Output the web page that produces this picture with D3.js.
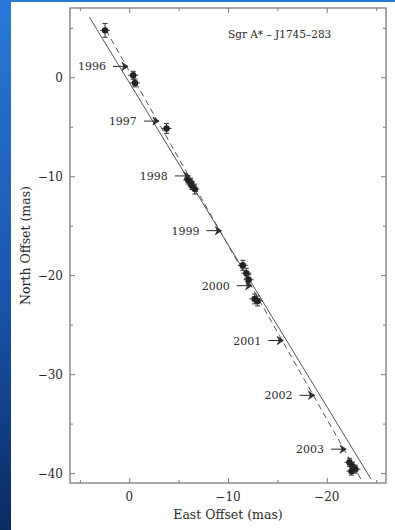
<!DOCTYPE html>
<html>
<head>
<meta charset="utf-8">
<script src="https://cdn.jsdelivr.net/npm/d3@7"></script>
<style>
  body { margin: 0; background: #fff; }
  text { fill: #2a2a2a; }
</style>
</head>
<body>
<div id="chart"></div>
<script>
// measured positions (mas): east offset, north offset, errors
var pointsX  = [2.45, -0.40, -0.58, -3.78, -5.96, -6.2, -6.35, -6.64, -11.5, -11.86, -12.09, -12.7, -13.0, -22.3, -22.6, -22.9, -22.5];
var pointsY  = [4.74, 0.2, -0.57, -5.17, -10.38, -10.6, -10.95, -11.3, -19.0, -19.8, -20.46, -22.4, -22.6, -38.9, -39.3, -39.6, -39.8];
var pointsEX = [0.3, 0.3, 0.3, 0.3, 0.25, 0.25, 0.25, 0.25, 0.3, 0.3, 0.3, 0.35, 0.35, 0.3, 0.3, 0.3, 0.3];
var pointsEY = [0.7, 0.4, 0.4, 0.5, 0.4, 0.4, 0.4, 0.5, 0.5, 0.5, 0.5, 0.5, 0.5, 0.4, 0.4, 0.4, 0.4];

// year markers: arrow tips on the track
var years  = ["1996", "1997", "1998", "1999", "2000", "2001", "2002", "2003"];
var yearsX = [0.13, -3.0, -6.13, -9.33, -12.4, -15.6, -18.76, -21.96];
var yearsY = [1.1, -4.43, -9.97, -15.5, -21.06, -26.6, -32.14, -37.58];

// galactic plane (solid) and fitted motion (dashed)
var solidX  = [4.04, -24.48];
var solidY  = [6.08, -40.6];
var dashedX = [2.35, -23.65];
var dashedY = [4.75, -40.95];

var xTicks = [0, -10, -20];
var yTicks = [0, -10, -20, -30, -40];

var W = 395, H = 530;
var margin = {top: 8, right: 9, bottom: 47, left: 70},
    width = W - margin.left - margin.right,
    height = H - margin.top - margin.bottom;

var svg = d3.select("#chart").append("svg")
    .attr("width", W)
    .attr("height", H);

// slide background
var defs = svg.append("defs");
var grad = defs.append("linearGradient")
    .attr("id", "slidebg").attr("x1", 0).attr("y1", 0).attr("x2", 0).attr("y2", 1);
grad.append("stop").attr("offset", "0%").attr("stop-color", "#2a78d8");
grad.append("stop").attr("offset", "55%").attr("stop-color", "#1a56ad");
grad.append("stop").attr("offset", "100%").attr("stop-color", "#0a2b60");
svg.append("rect").attr("width", W).attr("height", H).attr("fill", "url(#slidebg)");
svg.append("rect").attr("x", 11).attr("y", 2).attr("width", W - 11).attr("height", H - 2).attr("fill", "#fff");

var g = svg.append("g")
    .attr("transform", "translate(" + margin.left + "," + margin.top + ")");

var x = d3.scaleLinear().domain([6, -26]).range([0, width]);
var y = d3.scaleLinear().domain([7, -41]).range([0, height]);

var frameColor = "#7a7a7a";

// ticks on all four sides, pointing inward
function tickAxis(axisFn, scale, vals, size) {
  return axisFn(scale).tickValues(vals).tickSizeInner(size).tickSizeOuter(0).tickFormat("");
}
var xMinor = d3.range(5, -26, -5);
var yMinor = d3.range(5, -41, -5);

var axes = [
  {fn: d3.axisTop,    s: x, t: "translate(0," + height + ")"},
  {fn: d3.axisBottom, s: x, t: "translate(0,0)"},
  {fn: d3.axisRight,  s: y, t: "translate(0,0)"},
  {fn: d3.axisLeft,   s: y, t: "translate(" + width + ",0)"}
];
axes.forEach(function(a) {
  var minor = a.s === x ? xMinor : yMinor;
  var major = minor.filter(function(v) { return v % 10 === 0; });
  var small = minor.filter(function(v) { return v % 10 !== 0; });
  [[major, 5], [small, 3]].forEach(function(p) {
    var ax = g.append("g").attr("transform", a.t)
      .call(tickAxis(a.fn, a.s, p[0], p[1]));
    ax.select(".domain").remove();
    ax.selectAll("line").attr("stroke", frameColor).attr("stroke-width", 1);
  });
});

g.append("rect")
    .attr("width", width).attr("height", height)
    .attr("fill", "none").attr("stroke", frameColor).attr("stroke-width", 1.3);

// tick labels
g.selectAll(".xlab").data(xTicks).enter().append("text")
    .attr("x", function(d) { return x(d); })
    .attr("y", height + 18)
    .attr("text-anchor", "middle")
    .style("font", "12px 'DejaVu Serif'")
    .text(function(d) { return d3.format("")(d).replace("-", "\u2212"); });

g.selectAll(".ylab").data(yTicks).enter().append("text")
    .attr("x", -7)
    .attr("y", function(d) { return y(d) + 4.5; })
    .attr("text-anchor", "end")
    .style("font", "12px 'DejaVu Serif'")
    .text(function(d) { return d3.format("")(d).replace("-", "\u2212"); });

// axis titles
svg.append("text")
    .attr("x", margin.left + width / 2)
    .attr("y", 519)
    .attr("text-anchor", "middle")
    .style("font", "12.5px 'DejaVu Serif'")
    .text("East Offset (mas)");

svg.append("text")
    .attr("transform", "translate(30," + (margin.top + height / 2) + ")rotate(-90)")
    .attr("text-anchor", "middle")
    .style("font", "12.5px 'DejaVu Serif'")
    .text("North Offset (mas)");

// source label
g.append("text")
    .attr("x", 158)
    .attr("y", 30)
    .style("font", "10.5px 'DejaVu Serif'")
    .text("Sgr A* \u2013 J1745\u2013283");

// lines
var line = d3.line().x(function(d) { return x(d[0]); }).y(function(d) { return y(d[1]); });
g.append("path")
    .attr("d", line(d3.zip(solidX, solidY)))
    .attr("fill", "none").attr("stroke", "#555").attr("stroke-width", 1);
g.append("path")
    .attr("d", line(d3.zip(dashedX, dashedY)))
    .attr("fill", "none").attr("stroke", "#555").attr("stroke-width", 1)
    .attr("stroke-dasharray", "6,4");

// year arrows and labels
var yr = g.selectAll(".year").data(years).enter().append("g")
    .attr("transform", function(d, i) { return "translate(" + x(yearsX[i]) + "," + y(yearsY[i]) + ")"; });
yr.append("line")
    .attr("x1", -15).attr("x2", 0).attr("y1", 0).attr("y2", 0)
    .attr("stroke", "#2a2a2a").attr("stroke-width", 1);
yr.append("path")
    .attr("d", "M-6,-4 L0,0 L-6,4 L-4,0 Z")
    .attr("fill", "#2a2a2a").attr("stroke", "#2a2a2a").attr("stroke-width", 0.8);
yr.append("text")
    .attr("x", -22).attr("y", 4)
    .attr("text-anchor", "end")
    .style("font", "11px 'DejaVu Serif'")
    .text(function(d) { return d; });

// data points with error bars
var pts = g.selectAll(".pt").data(pointsX).enter().append("g");
pts.append("line")
    .attr("x1", function(d, i) { return x(pointsX[i]); })
    .attr("x2", function(d, i) { return x(pointsX[i]); })
    .attr("y1", function(d, i) { return y(pointsY[i] + pointsEY[i]); })
    .attr("y2", function(d, i) { return y(pointsY[i] - pointsEY[i]); })
    .attr("stroke", "#333").attr("stroke-width", 1);
pts.append("line")
    .attr("x1", function(d, i) { return x(pointsX[i] + pointsEX[i]) - 2; })
    .attr("x2", function(d, i) { return x(pointsX[i] - pointsEX[i]) + 2; })
    .attr("y1", function(d, i) { return y(pointsY[i]); })
    .attr("y2", function(d, i) { return y(pointsY[i]); })
    .attr("stroke", "#333").attr("stroke-width", 1);
[1, -1].forEach(function(sgn) {
  pts.append("line")
      .attr("x1", function(d, i) { return x(pointsX[i]) - 2.5; })
      .attr("x2", function(d, i) { return x(pointsX[i]) + 2.5; })
      .attr("y1", function(d, i) { return y(pointsY[i] + sgn * pointsEY[i]); })
      .attr("y2", function(d, i) { return y(pointsY[i] + sgn * pointsEY[i]); })
      .attr("stroke", "#333").attr("stroke-width", 1);
});
pts.append("circle")
    .attr("cx", function(d, i) { return x(pointsX[i]); })
    .attr("cy", function(d, i) { return y(pointsY[i]); })
    .attr("r", 3.2)
    .attr("fill", "#222");
</script>
</body>
</html>
